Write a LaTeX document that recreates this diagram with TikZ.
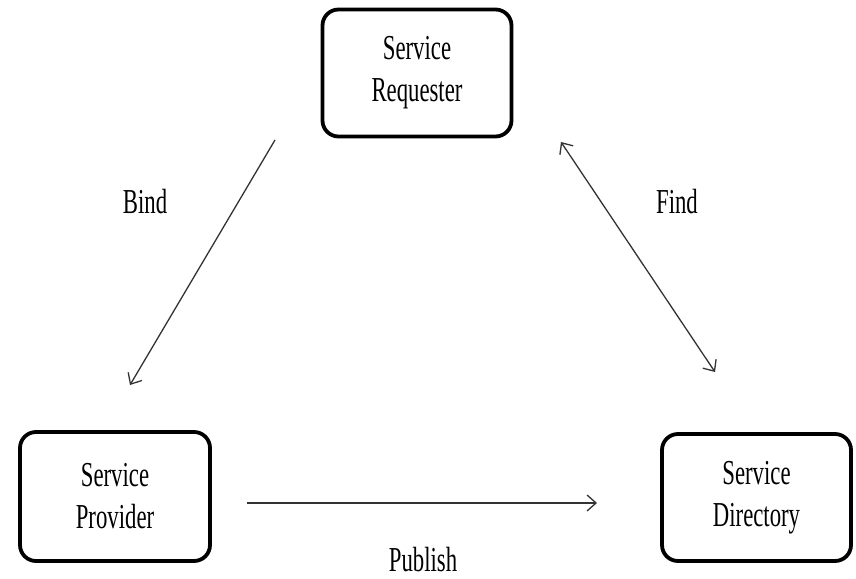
\documentclass[tikz,border=0pt]{standalone}
\usepackage{fontspec}
\setmainfont{Liberation Serif}[FakeStretch=0.65]
\usetikzlibrary{arrows.meta}
\begin{document}
\begin{tikzpicture}[x=1pt,y=-1pt,
  every node/.style={font=\fontsize{35}{42}\selectfont, align=center, inner sep=0pt},
  svc/.style={draw=black, line width=3.8pt, rounded corners=16pt,
              minimum width=189pt, minimum height=127pt},
  lbl/.style={},
  link/.style={line width=1.3pt, draw=black!80,
               {Straight Barb[length=9pt,width=16pt,line width=1.3pt]}-{Straight Barb[length=9pt,width=16pt,line width=1.3pt]}},
  oneway/.style={line width=1.3pt, draw=black!80,
               -{Straight Barb[length=9pt,width=16pt,line width=1.3pt]}}]
  \useasboundingbox (0,0) rectangle (856,578);

  % the three parties
  \node[svc] (req) at (417,73)   {Service\\Requester};
  \node[svc, minimum width=190pt, minimum height=129pt] (prov) at (115,496.5) {Service\\Provider};
  \node[svc, minimum width=189pt, minimum height=127pt] (dir)  at (756.5,497.5) {Service\\Directory};

  % free ends of the interactions
  \coordinate (bindA) at (275,140);
  \coordinate (bindB) at (130,385);
  \coordinate (findA) at (561,142);
  \coordinate (findB) at (715,372);
  \coordinate (pubA)  at (247,503);
  \coordinate (pubB)  at (597,503);

  \draw[oneway] (bindA) -- (bindB);
  \draw[link]   (findA) -- (findB);
  \draw[oneway] (pubA) -- (pubB);

  % interaction labels
  \node[lbl] (bind) at (145,202) {Bind};
  \node[lbl] (find) at (677,202) {Find};
  \node[lbl] (pub)  at (423,560) {Publish};
\end{tikzpicture}
\end{document}
